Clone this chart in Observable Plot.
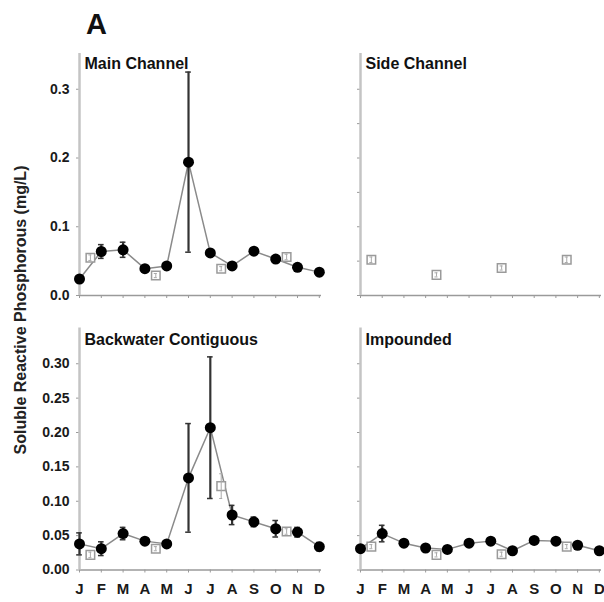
<!DOCTYPE html>
<html><head><meta charset="utf-8">
<script src="https://cdn.jsdelivr.net/npm/d3@7"></script>
<script src="https://cdn.jsdelivr.net/npm/@observablehq/plot@0.6"></script>
<style>
body{margin:0;background:#fff;}
#root{position:relative;width:604px;height:602px;overflow:hidden;font-family:"Liberation Sans",Arial,sans-serif;font-weight:bold;color:#222;}
.p{position:absolute;}
#letter{position:absolute;left:86px;top:8px;font-size:29px;line-height:32px;color:#111;}
#ylab{position:absolute;left:21px;top:310px;transform:translate(-50%,-50%) rotate(-90deg);white-space:nowrap;font-size:16px;line-height:18px;color:#222;}
</style></head>
<body><div id="root"><div id="letter">A</div><div id="ylab">Soluble Reactive Phosphorous (mg/L)</div></div>
<script>
// Categories / tick labels
const months = ["J","F","M","A","M","J","J","A","S","O","N","D"];
const monthPos = [0,1,2,3,4,5,6,7,8,9,10,11];
const squarePos = [0.5, 3.5, 6.5, 9.5];
const yTicksTop = [0, 0.1, 0.2, 0.3];
const yLabelsTop = ["0.0","0.1","0.2","0.3"];
const yTicksBottom = [0, 0.05, 0.10, 0.15, 0.20, 0.25, 0.30];
const yLabelsBottom = ["0.00","0.05","0.10","0.15","0.20","0.25","0.30"];
const yTicksRight = [0, 0.05, 0.10, 0.15, 0.20, 0.25, 0.30];

// Main Channel
const mainMean = [0.024,0.064,0.0665,0.039,0.043,0.194,0.062,0.043,0.0645,0.053,0.041,0.034];
const mainErr  = [0.004,0.010,0.011,0.003,0.003,0.131,0.003,0.003,0.003,0.003,0.003,0.003];
const mainSq    = [0.055,0.029,0.039,0.056];
const mainSqErr = [0.004,0.003,0.003,0.004];
// Side Channel
const sideSq    = [0.052,0.030,0.040,0.052];
const sideSqErr = [0.004,0.003,0.003,0.004];
// Backwater Contiguous
const backMean = [0.038,0.031,0.053,0.042,0.038,0.134,0.207,0.080,0.070,0.060,0.055,0.034];
const backErr  = [0.016,0.010,0.009,0.004,0.004,0.079,0.103,0.014,0.007,0.012,0.007,0.006];
const backSq    = [0.022,0.031,0.122,0.056];
const backSqErr = [0.004,0.003,0.018,0.004];
// Impounded
const impMean = [0.031,0.053,0.039,0.032,0.030,0.039,0.042,0.028,0.043,0.042,0.036,0.028];
const impErr  = [0.003,0.012,0.003,0.003,0.003,0.003,0.003,0.003,0.003,0.003,0.003,0.003];
const impSq    = [0.034,0.022,0.023,0.034];
const impSqErr = [0.003,0.003,0.003,0.003];

const yMax = 0.352;
const xDomain = [0, 11.1];
const cap = 0.13;

function panel(o) {
  const circles = o.mean ? o.mean.map((v,i)=>({x:monthPos[i], y:v, lo:v-o.err[i], hi:v+o.err[i]})) : [];
  const squares = o.sq.map((v,i)=>({x:squarePos[i], y:v, lo:v-o.sqErr[i], hi:v+o.sqErr[i]}));
  const marks = [
    Plot.ruleY([0], {stroke:"#9a9a9a", strokeWidth:1.5}),
    Plot.axisX({ticks: monthPos, tickSize:3, tickPadding:10, stroke:"#9a9a9a", fill:"#1a1a1a", fontSize:15, fontWeight:"bold", label:null,
      tickFormat: o.showX ? (d => months[monthPos.indexOf(d)]) : (() => "")}),
    Plot.axisY({ticks: o.yTicks, tickSize:3, tickPadding:7, stroke:"#9a9a9a", fill:"#1a1a1a", fontSize:14, fontWeight:"bold", label:null,
      tickFormat: o.yLabels ? (d => o.yLabels[o.yTicks.indexOf(d)]) : (() => "")}),
    Plot.ruleX([0], {y1:0, y2:yMax, stroke:"#c4c4c4", strokeWidth:2.5}),
    Plot.line(circles, {x:"x", y:"y", stroke:"#8a8a8a", strokeWidth:1.5}),
    Plot.ruleX(circles, {x:"x", y1:"lo", y2:"hi", stroke:"#333", strokeWidth:2.2}),
    Plot.ruleY(circles, {y:"lo", x1:d=>d.x-cap, x2:d=>d.x+cap, stroke:"#333", strokeWidth:1.5}),
    Plot.ruleY(circles, {y:"hi", x1:d=>d.x-cap, x2:d=>d.x+cap, stroke:"#333", strokeWidth:1.5}),
    Plot.dot(circles, {x:"x", y:"y", r:5.5, fill:"#000"}),
    Plot.dot(squares, {x:"x", y:"y", symbol:"square", r:4.8, fill:"white", stroke:"#9a9a9a", strokeWidth:1.5}),
    Plot.ruleX(squares, {x:"x", y1:"lo", y2:"hi", stroke:"#aaa", strokeWidth:1}),
    Plot.ruleY(squares, {y:"lo", x1:d=>d.x-0.07, x2:d=>d.x+0.07, stroke:"#aaa", strokeWidth:1}),
    Plot.ruleY(squares, {y:"hi", x1:d=>d.x-0.07, x2:d=>d.x+0.07, stroke:"#aaa", strokeWidth:1}),
    Plot.text([o.name], {frameAnchor:"top-left", dx:5, dy:o.labelDy, lineAnchor:"top", textAnchor:"start", fontSize:16, fontWeight:"bold", fill:"#111"})
  ];
  const chart = Plot.plot({
    width:o.width, height:o.height,
    marginLeft:o.mL, marginRight:o.mR, marginTop:o.mT, marginBottom:o.mB,
    x:{domain:xDomain, label:null},
    y:{domain:[0, yMax], label:null},
    style:{fontFamily:"'Liberation Sans', Arial, sans-serif", fontWeight:"bold", background:"transparent", overflow:"visible"},
    marks
  });
  const div = document.createElement("div");
  div.className = "p";
  div.style.left = o.left + "px";
  div.style.top = o.top + "px";
  div.appendChild(chart);
  document.getElementById("root").appendChild(div);
}

panel({name:"Main Channel", mean:mainMean, err:mainErr, sq:mainSq, sqErr:mainSqErr, yTicks:yTicksTop, yLabels:yLabelsTop, showX:false,
  left:0, top:40, width:330, height:265, mL:79, mR:9, mT:13, mB:10, labelDy:4});
panel({name:"Side Channel", mean:null, sq:sideSq, sqErr:sideSqErr, yTicks:yTicksRight, yLabels:null, showX:false,
  left:330, top:40, width:274, height:265, mL:30, mR:3, mT:13, mB:10, labelDy:4});
panel({name:"Backwater Contiguous", mean:backMean, err:backErr, sq:backSq, sqErr:backSqErr, yTicks:yTicksBottom, yLabels:yLabelsBottom, showX:true,
  left:0, top:317, width:330, height:285, mL:79, mR:9, mT:10.5, mB:32.5, labelDy:6});
panel({name:"Impounded", mean:impMean, err:impErr, sq:impSq, sqErr:impSqErr, yTicks:yTicksRight, yLabels:null, showX:true,
  left:330, top:317, width:274, height:285, mL:30, mR:3, mT:10.5, mB:32.5, labelDy:6});
</script>
</body></html>
